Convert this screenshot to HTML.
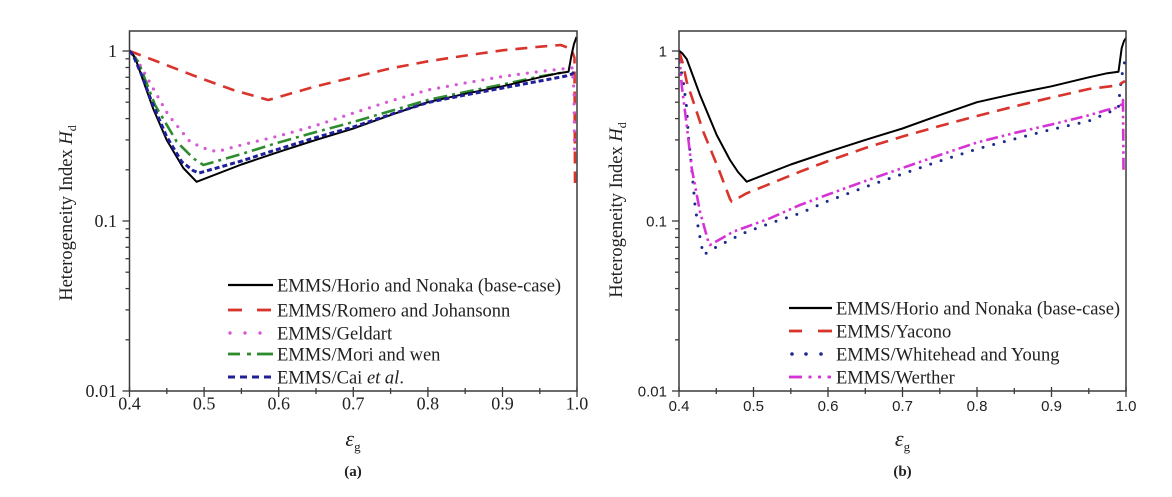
<!DOCTYPE html>
<html>
<head>
<meta charset="utf-8">
<style>
  html, body { margin: 0; padding: 0; background: #ffffff; }
  body { width: 1172px; height: 497px; overflow: hidden; }
  svg { display: block; }
</style>
</head>
<body>
<svg width="1172" height="497" viewBox="0 0 1172 497" xmlns="http://www.w3.org/2000/svg">
  <defs>
    <clipPath id="ca"><rect x="129.5" y="31" width="447.5" height="360"/></clipPath>
    <clipPath id="cb"><rect x="679" y="31" width="447" height="360"/></clipPath>
  </defs>
  <rect x="0" y="0" width="1172" height="497" fill="#ffffff"/>

  <!-- ================= PANEL (a) ================= -->
  <g clip-path="url(#ca)" fill="none" stroke-linejoin="round">
    <path d="M129.5,51 L153.3,60 L200,78 L233.3,90 L268.3,100 L316,86.3 L353.3,77.3 L390.6,68.4 L427.9,61.3 L465.2,55.6 L502.5,50.3 L539.8,46.7 L560.7,45 L571.5,49 L574.5,58 L575,183"
          stroke="#d9342c" stroke-width="2.6" stroke-dasharray="12 8"/>
    <path d="M129.5,51 L134,56 L140,65 L155,91.7 L168.3,115 L190,141.7 L203.3,148 L216.7,151.7 L241.4,145 L278.7,136 L300,130 L316,125.5 L353.3,113 L390.6,101 L427.9,90 L465.2,83 L502.5,76.5 L539.8,71.5 L566,68.5 L572,68 L574,90 L574.5,150"
          stroke="#d65ad8" stroke-width="3.2" stroke-dasharray="0 9" stroke-linecap="round"/>
    <path d="M129.5,51 L133,55 L138.3,61.7 L155,105 L176.7,141.7 L193.3,158.3 L203.3,165 L241.4,154 L278.7,142.5 L316,132 L353.3,122 L390.6,111 L427.9,100 L465.2,92 L502.5,84.5 L539.8,76.5 L566,72"
          stroke="#2e8b2e" stroke-width="2.6" stroke-dasharray="14 5 3 5"/>
    <path d="M129.5,51 L133,54.5 L137,63 L143.3,81 L153.3,109 L166.7,140 L183.3,168 L196.6,181.8 L241.4,164.5 L278.7,151.9 L316,139.9 L353.3,128.5 L390.6,115.1 L427.9,102.2 L465.2,93.8 L502.5,86.3 L539.8,77.3 L558.5,73.2 L568.5,71.8 L571.5,55 L574,44 L576.5,37"
          stroke="#000000" stroke-width="2"/>
    <path d="M129.5,51 L133,55 L141.7,75 L151.7,101.7 L166.7,136.7 L181.7,161.7 L193,170.5 L199,173 L241.4,161 L278.7,149 L316,137.5 L353.3,127 L390.6,114.5 L427.9,102.5 L465.2,95 L502.5,88 L539.8,81 L566,76 L572,74 L576,70"
          stroke="#1f1f9a" stroke-width="3" stroke-dasharray="5 3"/>
  </g>

  <rect x="129.5" y="31" width="447.5" height="360" fill="none" stroke="#3a3a3a" stroke-width="1.5"/>
  <g stroke="#3a3a3a" stroke-width="1.3">
    <line x1="122.5" y1="51" x2="129.5" y2="51"/>
    <line x1="122.5" y1="221" x2="129.5" y2="221"/>
    <line x1="122.5" y1="391" x2="129.5" y2="391"/>
    <line x1="125.5" y1="169.8" x2="129.5" y2="169.8"/>
    <line x1="125.5" y1="139.9" x2="129.5" y2="139.9"/>
    <line x1="125.5" y1="118.6" x2="129.5" y2="118.6"/>
    <line x1="125.5" y1="102.2" x2="129.5" y2="102.2"/>
    <line x1="125.5" y1="88.7" x2="129.5" y2="88.7"/>
    <line x1="125.5" y1="77.3" x2="129.5" y2="77.3"/>
    <line x1="125.5" y1="67.5" x2="129.5" y2="67.5"/>
    <line x1="125.5" y1="58.8" x2="129.5" y2="58.8"/>
    <line x1="125.5" y1="339.8" x2="129.5" y2="339.8"/>
    <line x1="125.5" y1="309.9" x2="129.5" y2="309.9"/>
    <line x1="125.5" y1="288.6" x2="129.5" y2="288.6"/>
    <line x1="125.5" y1="272.2" x2="129.5" y2="272.2"/>
    <line x1="125.5" y1="258.7" x2="129.5" y2="258.7"/>
    <line x1="125.5" y1="247.3" x2="129.5" y2="247.3"/>
    <line x1="125.5" y1="237.5" x2="129.5" y2="237.5"/>
    <line x1="125.5" y1="228.8" x2="129.5" y2="228.8"/>
  </g>
  <g stroke="#3a3a3a" stroke-width="1.3">
    <line x1="129.5" y1="387" x2="129.5" y2="397"/>
    <line x1="204.1" y1="387" x2="204.1" y2="397"/>
    <line x1="278.7" y1="387" x2="278.7" y2="397"/>
    <line x1="353.3" y1="387" x2="353.3" y2="397"/>
    <line x1="427.9" y1="387" x2="427.9" y2="397"/>
    <line x1="502.5" y1="387" x2="502.5" y2="397"/>
    <line x1="577" y1="387" x2="577" y2="397"/>
    <line x1="166.8" y1="388" x2="166.8" y2="394"/>
    <line x1="241.4" y1="388" x2="241.4" y2="394"/>
    <line x1="316" y1="388" x2="316" y2="394"/>
    <line x1="390.6" y1="388" x2="390.6" y2="394"/>
    <line x1="465.2" y1="388" x2="465.2" y2="394"/>
    <line x1="539.8" y1="388" x2="539.8" y2="394"/>
  </g>
  <g font-family="'Liberation Serif', 'Times New Roman', serif" font-size="18" fill="#222" text-anchor="end">
    <text x="117" y="57">1</text>
    <text x="117" y="227">0.1</text>
    <text x="117" y="397">0.01</text>
  </g>
  <g font-family="'Liberation Serif', 'Times New Roman', serif" font-size="18" fill="#222" text-anchor="middle">
    <text x="129.5" y="409.5">0.4</text>
    <text x="204.1" y="409.5">0.5</text>
    <text x="278.7" y="409.5">0.6</text>
    <text x="353.3" y="409.5">0.7</text>
    <text x="427.9" y="409.5">0.8</text>
    <text x="502.5" y="409.5">0.9</text>
    <text x="577" y="409.5">1.0</text>
  </g>
  <text font-family="'Liberation Serif', 'Times New Roman', serif" font-size="18.5" fill="#222" text-anchor="middle" transform="translate(72,213) rotate(-90)">Heterogeneity Index <tspan font-style="italic">H</tspan><tspan font-size="12" dy="4">d</tspan></text>
  <text font-family="'Liberation Serif', 'Times New Roman', serif" font-size="22" fill="#222" text-anchor="middle" x="353" y="446"><tspan font-style="italic">ε</tspan><tspan font-size="13" dy="5">g</tspan></text>
  <text font-family="'Liberation Serif', 'Times New Roman', serif" font-size="15" font-weight="bold" fill="#222" text-anchor="middle" x="353" y="476">(a)</text>

  <g>
    <line x1="228" y1="285" x2="273" y2="285" stroke="#000" stroke-width="2.2"/>
    <line x1="228" y1="310" x2="242" y2="310" stroke="#d9342c" stroke-width="2.8"/>
    <line x1="257" y1="310" x2="271" y2="310" stroke="#d9342c" stroke-width="2.8"/>
    <circle cx="230" cy="333" r="1.7" fill="#d65ad8"/>
    <circle cx="245" cy="333" r="1.7" fill="#d65ad8"/>
    <circle cx="260" cy="333" r="1.7" fill="#d65ad8"/>
    <line x1="228" y1="354" x2="240" y2="354" stroke="#2e8b2e" stroke-width="2.8"/>
    <line x1="247" y1="354" x2="251" y2="354" stroke="#2e8b2e" stroke-width="2.8"/>
    <line x1="257" y1="354" x2="273" y2="354" stroke="#2e8b2e" stroke-width="2.8"/>
    <line x1="228" y1="377" x2="235" y2="377" stroke="#1f1f9a" stroke-width="3"/>
    <line x1="240" y1="377" x2="247" y2="377" stroke="#1f1f9a" stroke-width="3"/>
    <line x1="252" y1="377" x2="259" y2="377" stroke="#1f1f9a" stroke-width="3"/>
    <line x1="264" y1="377" x2="271" y2="377" stroke="#1f1f9a" stroke-width="3"/>
  </g>
  <g font-family="'Liberation Serif', 'Times New Roman', serif" font-size="18.5" fill="#222">
    <text x="277" y="291.5">EMMS/Horio and Nonaka (base-case)</text>
    <text x="277" y="316.5">EMMS/Romero and Johansonn</text>
    <text x="277" y="339.5">EMMS/Geldart</text>
    <text x="277" y="360.5">EMMS/Mori and wen</text>
    <text x="277" y="383.5">EMMS/Cai <tspan font-style="italic">et al</tspan>.</text>
  </g>

  <!-- ================= PANEL (b) ================= -->
  <g clip-path="url(#cb)" fill="none" stroke-linejoin="round">
    <path d="M679,51 L680,65 L683.3,81.7 L686.7,108 L688.3,135 L691.7,168.3 L695,205 L698.3,228.3 L703.3,255 L716.7,246.7 L743.3,233.3 L770,223.3 L800,213.3 L828,201 L865.3,187 L902.5,174 L939.8,161 L977,149 L1014.3,139 L1051.5,129.5 L1088.8,121 L1106.7,113.3 L1118.3,108.3 L1120,90 L1122,75 L1125,60 L1126,55"
          stroke="#1c2a8a" stroke-width="3" stroke-dasharray="0 11" stroke-linecap="round"/>
    <path d="M679,51 L681.7,85 L686.7,125 L691.7,168.3 L700,211.7 L708.3,241.7 L710,245 L733.3,231.7 L770,218.3 L800,205 L828,194.5 L865.3,181 L902.5,168 L939.8,155 L977,142.5 L1014.3,133 L1051.5,124.5 L1088.8,115.3 L1106.7,110 L1118,107.5 L1122,104 L1123,100 L1123.5,170"
          stroke="#d633d6" stroke-width="2.6" stroke-dasharray="12 4 2.5 4 2.5 4"/>
    <path d="M679,51 L683,64 L686.7,81.7 L703.3,131.7 L718.3,168.3 L730,199 L731.7,201.7 L746.7,193.3 L800,171.7 L828,161 L865.3,148 L902.5,136.5 L939.8,126 L977,116 L1014.3,106.5 L1051.5,97.5 L1088.8,89 L1113,86 L1120,84 L1125,81"
          stroke="#d9342c" stroke-width="2.6" stroke-dasharray="13 8"/>
    <path d="M679,51 L682,53 L686.7,59 L693,76 L700,95 L716.7,135 L730,160 L738,172 L746.7,181.7 L790.8,164.5 L828,151.9 L865.3,139.9 L902.5,128.5 L939.8,115.1 L977,102.2 L1014.3,93.8 L1051.5,86.3 L1088.8,77.3 L1107.4,73.2 L1118.5,71.7 L1121.7,48 L1124,41 L1126,38"
          stroke="#000000" stroke-width="2"/>
  </g>

  <rect x="679" y="31" width="447" height="360" fill="none" stroke="#3a3a3a" stroke-width="1.5"/>
  <g stroke="#3a3a3a" stroke-width="1.3">
    <line x1="672" y1="51" x2="679" y2="51"/>
    <line x1="672" y1="221" x2="679" y2="221"/>
    <line x1="672" y1="391" x2="679" y2="391"/>
    <line x1="675" y1="169.8" x2="679" y2="169.8"/>
    <line x1="675" y1="139.9" x2="679" y2="139.9"/>
    <line x1="675" y1="118.6" x2="679" y2="118.6"/>
    <line x1="675" y1="102.2" x2="679" y2="102.2"/>
    <line x1="675" y1="88.7" x2="679" y2="88.7"/>
    <line x1="675" y1="77.3" x2="679" y2="77.3"/>
    <line x1="675" y1="67.5" x2="679" y2="67.5"/>
    <line x1="675" y1="58.8" x2="679" y2="58.8"/>
    <line x1="675" y1="339.8" x2="679" y2="339.8"/>
    <line x1="675" y1="309.9" x2="679" y2="309.9"/>
    <line x1="675" y1="288.6" x2="679" y2="288.6"/>
    <line x1="675" y1="272.2" x2="679" y2="272.2"/>
    <line x1="675" y1="258.7" x2="679" y2="258.7"/>
    <line x1="675" y1="247.3" x2="679" y2="247.3"/>
    <line x1="675" y1="237.5" x2="679" y2="237.5"/>
    <line x1="675" y1="228.8" x2="679" y2="228.8"/>
  </g>
  <g stroke="#3a3a3a" stroke-width="1.3">
    <line x1="679" y1="387" x2="679" y2="397"/>
    <line x1="753.5" y1="387" x2="753.5" y2="397"/>
    <line x1="828" y1="387" x2="828" y2="397"/>
    <line x1="902.5" y1="387" x2="902.5" y2="397"/>
    <line x1="977" y1="387" x2="977" y2="397"/>
    <line x1="1051.5" y1="387" x2="1051.5" y2="397"/>
    <line x1="1126" y1="387" x2="1126" y2="397"/>
    <line x1="716.3" y1="388" x2="716.3" y2="394"/>
    <line x1="790.8" y1="388" x2="790.8" y2="394"/>
    <line x1="865.3" y1="388" x2="865.3" y2="394"/>
    <line x1="939.8" y1="388" x2="939.8" y2="394"/>
    <line x1="1014.3" y1="388" x2="1014.3" y2="394"/>
    <line x1="1088.8" y1="388" x2="1088.8" y2="394"/>
  </g>
  <g font-family="'Liberation Sans', Arial, sans-serif" font-size="15" fill="#222" text-anchor="end">
    <text x="667" y="56.5">1</text>
    <text x="667" y="226.5">0.1</text>
    <text x="667" y="396.5">0.01</text>
  </g>
  <g font-family="'Liberation Sans', Arial, sans-serif" font-size="15" fill="#222" text-anchor="middle">
    <text x="679" y="411">0.4</text>
    <text x="753.5" y="411">0.5</text>
    <text x="828" y="411">0.6</text>
    <text x="902.5" y="411">0.7</text>
    <text x="977" y="411">0.8</text>
    <text x="1051.5" y="411">0.9</text>
    <text x="1126" y="411">1.0</text>
  </g>
  <text font-family="'Liberation Serif', 'Times New Roman', serif" font-size="18.5" fill="#222" text-anchor="middle" transform="translate(622,210) rotate(-90)">Heterogeneity Index <tspan font-style="italic">H</tspan><tspan font-size="12" dy="4">d</tspan></text>
  <text font-family="'Liberation Serif', 'Times New Roman', serif" font-size="22" fill="#222" text-anchor="middle" x="902.5" y="446"><tspan font-style="italic">ε</tspan><tspan font-size="13" dy="5">g</tspan></text>
  <text font-family="'Liberation Serif', 'Times New Roman', serif" font-size="15" font-weight="bold" fill="#222" text-anchor="middle" x="902.5" y="476">(b)</text>

  <g>
    <line x1="789" y1="308" x2="832" y2="308" stroke="#000" stroke-width="2.2"/>
    <line x1="789" y1="331" x2="802" y2="331" stroke="#d9342c" stroke-width="2.8"/>
    <line x1="818" y1="331" x2="832" y2="331" stroke="#d9342c" stroke-width="2.8"/>
    <circle cx="792" cy="354" r="1.8" fill="#1c2a8a"/>
    <circle cx="806" cy="354" r="1.8" fill="#1c2a8a"/>
    <circle cx="821" cy="354" r="1.8" fill="#1c2a8a"/>
    <line x1="789" y1="377" x2="802" y2="377" stroke="#d633d6" stroke-width="2.8"/>
    <line x1="808.5" y1="377" x2="811.5" y2="377" stroke="#d633d6" stroke-width="2.8"/>
    <line x1="818" y1="377" x2="821" y2="377" stroke="#d633d6" stroke-width="2.8"/>
    <line x1="827.5" y1="377" x2="831" y2="377" stroke="#d633d6" stroke-width="2.8"/>
  </g>
  <g font-family="'Liberation Serif', 'Times New Roman', serif" font-size="18.5" fill="#222">
    <text x="836" y="314.5">EMMS/Horio and Nonaka (base-case)</text>
    <text x="836" y="337.5">EMMS/Yacono</text>
    <text x="836" y="360.5">EMMS/Whitehead and Young</text>
    <text x="836" y="383.5">EMMS/Werther</text>
  </g>
</svg>
</body>
</html>
